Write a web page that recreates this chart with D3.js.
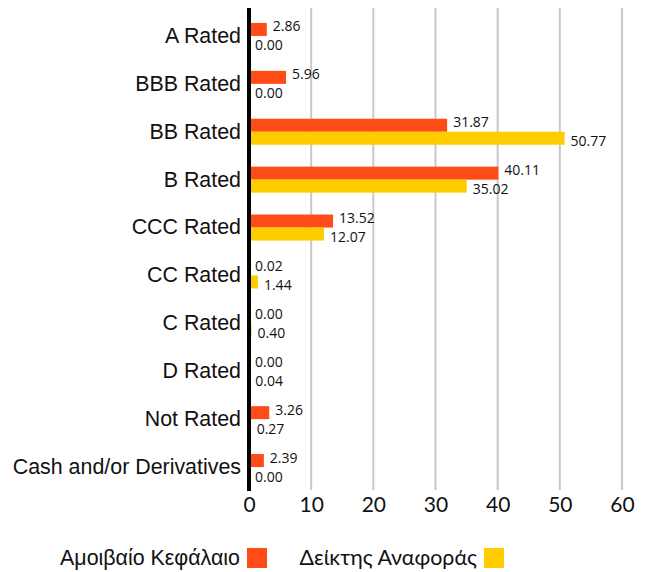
<!DOCTYPE html>
<html>
<head>
<meta charset="utf-8">
<script src="https://cdn.jsdelivr.net/npm/d3@7"></script>
<style>
  body { margin: 0; background: #fff; }
  svg { display: block; }
</style>
</head>
<body>
<div id="chart"></div>
<script>
// data
var categories = ['A Rated', 'BBB Rated', 'BB Rated', 'B Rated', 'CCC Rated', 'CC Rated', 'C Rated', 'D Rated', 'Not Rated', 'Cash and/or Derivatives'];
var fundValues = [2.86, 5.96, 31.87, 40.11, 13.52, 0.02, 0.00, 0.00, 3.26, 2.39];
var indexValues = [0.00, 0.00, 50.77, 35.02, 12.07, 1.44, 0.40, 0.04, 0.27, 0.00];
var seriesNames = ['Αμοιβαίο Κεφάλαιο', 'Δείκτης Αναφοράς'];
var xTicks = [0, 10, 20, 30, 40, 50, 60];

var colors = ['#ff4b16', '#ffcc00'];
var width = 651, height = 572;

var svg = d3.select('#chart').append('svg')
  .attr('width', width)
  .attr('height', height);

var x = d3.scaleLinear().domain([0, 60]).range([249, 622]);
var y = d3.scaleBand().domain(categories).range([12, 491]);
var barH = 13;

// grid lines
svg.append('g').selectAll('line')
  .data(xTicks.slice(1))
  .enter().append('line')
  .attr('x1', function(d) { return x(d); })
  .attr('x2', function(d) { return x(d); })
  .attr('y1', 8).attr('y2', 490)
  .style('stroke', '#c8c8c8')
  .style('stroke-width', 2);

// x axis tick labels
var xAxis = d3.axisBottom(x).tickValues(xTicks).tickSize(0).tickPadding(0);
var gx = svg.append('g').attr('transform', 'translate(0,497)').call(xAxis);
gx.select('.domain').remove();
gx.selectAll('text')
  .attr('dy', '0.71em')
  .style('font-family', 'Lato, sans-serif')
  .style('font-size', '21px')
  .style('fill', '#111');

// category labels
var yAxis = d3.axisLeft(y).tickSize(0).tickPadding(8);
var gy = svg.append('g').attr('transform', 'translate(249,0)').call(yAxis);
gy.select('.domain').remove();
gy.selectAll('text')
  .style('font-family', '"Liberation Sans", Arial, sans-serif')
  .style('font-size', '21.4px')
  .style('fill', '#111');

var rows = categories.map(function(c, i) {
  return { cat: c, fund: fundValues[i], idx: indexValues[i] };
});
var center = function(d) { return y(d.cat) + y.bandwidth() / 2; };

// fund bars
svg.append('g').selectAll('rect')
  .data(rows)
  .enter().append('rect')
  .attr('x', x(0))
  .attr('y', function(d) { return center(d) - barH; })
  .attr('width', function(d) { return x(d.fund) - x(0); })
  .attr('height', barH)
  .style('fill', colors[0]);

// index bars
svg.append('g').selectAll('rect')
  .data(rows)
  .enter().append('rect')
  .attr('x', x(0))
  .attr('y', function(d) { return center(d); })
  .attr('width', function(d) { return x(d.idx) - x(0); })
  .attr('height', barH)
  .style('fill', colors[1]);

// value labels
var labelStyle = function(sel) {
  sel.style('font-family', '"Open Sans", sans-serif')
    .style('font-size', '14px')
    .style('fill', '#111');
};
svg.append('g').selectAll('text')
  .data(rows)
  .enter().append('text')
  .attr('x', function(d) { return x(d.fund) + 6; })
  .attr('y', function(d) { return center(d) - 4.5; })
  .text(function(d) { return d.fund.toFixed(2); })
  .call(labelStyle);

svg.append('g').selectAll('text')
  .data(rows)
  .enter().append('text')
  .attr('x', function(d) { return x(d.idx) + 6; })
  .attr('y', function(d) { return center(d) + 14.5; })
  .text(function(d) { return d.idx.toFixed(2); })
  .call(labelStyle);

// zero axis line
svg.append('line')
  .attr('x1', x(0)).attr('x2', x(0))
  .attr('y1', 8).attr('y2', 491)
  .style('stroke', '#000')
  .style('stroke-width', 4);

// legend
var legend = [
  { name: seriesNames[0], sx: 247, font: '"Liberation Sans", Arial, sans-serif' },
  { name: seriesNames[1], sx: 484, font: 'Lato, sans-serif' }
];
legend.forEach(function(l, i) {
  svg.append('rect')
    .attr('x', l.sx).attr('y', 548)
    .attr('width', 20).attr('height', 20)
    .style('fill', colors[i]);
  svg.append('text')
    .attr('x', l.sx - 7).attr('y', 558)
    .attr('dy', '0.35em')
    .attr('text-anchor', 'end')
    .style('font-family', l.font)
    .style('font-size', '21.4px')
    .style('fill', '#111')
    .text(l.name);
});
</script>
</body>
</html>
